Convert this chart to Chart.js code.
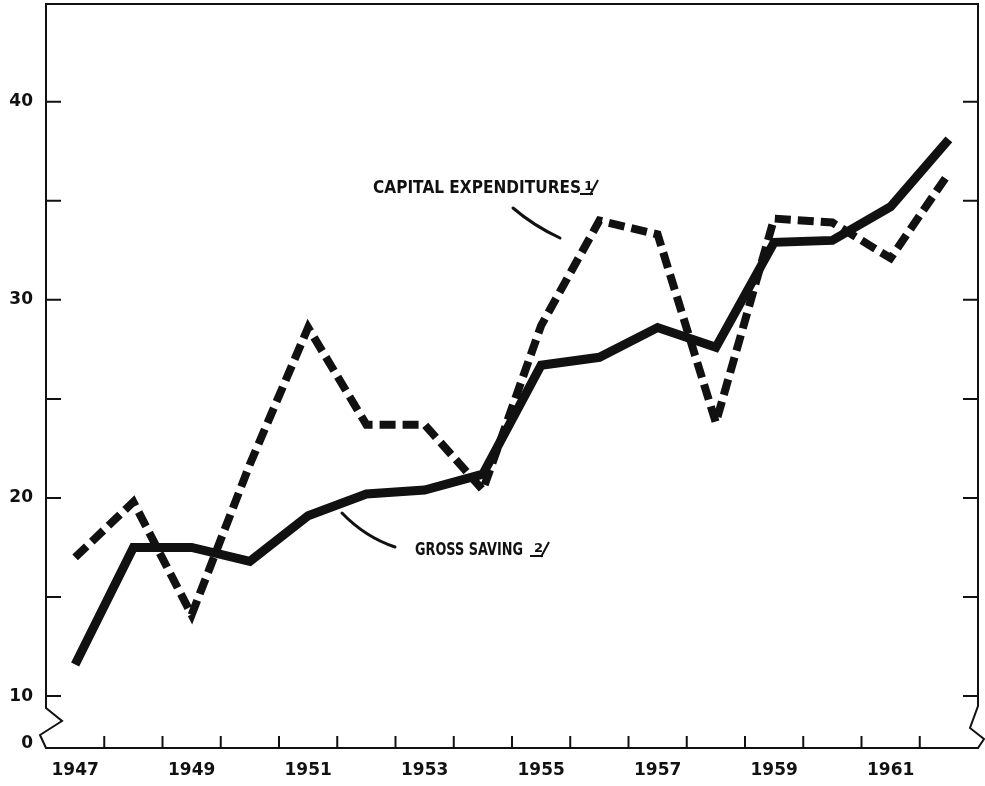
<!DOCTYPE html>
<html>
<head>
<meta charset="utf-8">
<script src="https://cdn.jsdelivr.net/npm/chart.js@4/dist/chart.umd.min.js"></script>
<style>
  html, body { margin: 0; padding: 0; background: #fff; }
  #wrap { width: 985px; height: 786px; position: relative; }
</style>
</head>
<body>
<div id="wrap"><canvas id="chart"></canvas></div>
<script>
// data
const years = ['1947', '1948', '1949', '1950', '1951', '1952', '1953', '1954',
               '1955', '1956', '1957', '1958', '1959', '1960', '1961', '1962'];
const grossSaving = [11.6, 17.5, 17.5, 16.8, 19.1, 20.2, 20.4, 21.2,
                     26.7, 27.1, 28.6, 27.6, 32.9, 33.0, 34.7, 38.1];
const capitalExpenditures = [17.0, 19.8, 14.1, 21.7, 28.6, 23.7, 23.7, 20.4,
                             28.7, 34.0, 33.3, 23.8, 34.1, 33.9, 32.1, 36.4];
const yTickMarks = [10, 15, 20, 25, 30, 35, 40];
const yTickLabels = [10, 20, 30, 40];
const zeroLabel = '0';

const Y_MIN = 7.38, Y_MAX = 44.93, ZERO_AT = 7.62;
const INK = '#111';
const FONT = "'DejaVu Sans', sans-serif";

const framePlugin = {
    id: 'frame',
    beforeDatasetsDraw(chart) {
        const { ctx, chartArea: a, scales } = chart;
        const x = scales.x, y = scales.y;
        ctx.save();
        ctx.strokeStyle = INK;
        ctx.lineWidth = 2;
        ctx.lineJoin = 'miter';

        // box with broken axes at the bottom of both sides
        ctx.beginPath();
        ctx.moveTo(a.left, a.bottom);
        ctx.lineTo(a.left - 6, a.bottom - 13);
        ctx.lineTo(a.left + 16, a.bottom - 27);
        ctx.lineTo(a.left, a.bottom - 40);
        ctx.lineTo(a.left, a.top);
        ctx.lineTo(a.right, a.top);
        ctx.lineTo(a.right, a.bottom - 42);
        ctx.lineTo(a.right - 8, a.bottom - 20);
        ctx.lineTo(a.right + 6, a.bottom - 9);
        ctx.lineTo(a.right, a.bottom);
        ctx.closePath();
        ctx.stroke();

        // inward ticks on both vertical sides
        yTickMarks.forEach(v => {
            const py = y.getPixelForValue(v);
            ctx.beginPath();
            ctx.moveTo(a.left, py); ctx.lineTo(a.left + 15, py);
            ctx.moveTo(a.right, py); ctx.lineTo(a.right - 15, py);
            ctx.stroke();
        });

        // ticks between years on the bottom axis
        for (let i = 0; i < years.length - 1; i++) {
            const px = (x.getPixelForValue(i) + x.getPixelForValue(i + 1)) / 2;
            ctx.beginPath();
            ctx.moveTo(px, a.bottom); ctx.lineTo(px, a.bottom - 12);
            ctx.stroke();
        }
        ctx.restore();
    },
    afterDraw(chart) {
        const ctx = chart.ctx;
        ctx.save();
        ctx.fillStyle = INK;
        ctx.strokeStyle = INK;
        ctx.textBaseline = 'alphabetic';
        ctx.font = 'bold 17px ' + FONT;
        ctx.fillText('CAPITAL EXPENDITURES', 373, 193, 208);
        ctx.fillText('GROSS SAVING', 415, 555, 108);

        // footnote marks
        ctx.font = 'bold 13px ' + FONT;
        ctx.fillText('1', 584, 190);
        ctx.fillText('2', 534, 552);
        ctx.lineWidth = 2;
        ctx.beginPath();
        ctx.moveTo(580, 194); ctx.lineTo(593, 194);
        ctx.moveTo(590, 195); ctx.lineTo(598, 180);
        ctx.moveTo(530, 556); ctx.lineTo(543, 556);
        ctx.moveTo(541, 557); ctx.lineTo(549, 542);
        ctx.stroke();

        // leader lines
        ctx.lineWidth = 3;
        ctx.lineCap = 'round';
        ctx.beginPath();
        ctx.moveTo(513, 208);
        ctx.quadraticCurveTo(534, 226, 560, 238);
        ctx.moveTo(342, 513);
        ctx.quadraticCurveTo(365, 537, 395, 547);
        ctx.stroke();
        ctx.restore();
    }
};

new Chart(document.getElementById('chart'), {
    type: 'line',
    data: {
        labels: years,
        datasets: [
            {
                label: 'Capital expenditures',
                data: capitalExpenditures,
                borderColor: INK,
                borderWidth: 8,
                borderDash: [16, 7],
                borderCapStyle: 'butt',
                borderJoinStyle: 'miter',
                pointRadius: 0,
                tension: 0
            },
            {
                label: 'Gross saving',
                data: grossSaving,
                borderColor: INK,
                borderWidth: 9,
                borderCapStyle: 'butt',
                borderJoinStyle: 'miter',
                pointRadius: 0,
                tension: 0
            }
        ]
    },
    options: {
        responsive: true,
        maintainAspectRatio: false,
        animation: false,
        layout: { padding: { top: 4, right: 7, left: 0, bottom: 0 } },
        plugins: {
            legend: { display: false },
            tooltip: { enabled: false }
        },
        scales: {
            x: {
                offset: true,
                grid: { display: false, drawTicks: false },
                border: { display: false },
                afterFit: s => { s.height = 38; s.paddingLeft = 0; s.paddingRight = 0; },
                ticks: {
                    color: INK,
                    font: { family: FONT, size: 17, weight: 'bold' },
                    padding: 12,
                    autoSkip: false,
                    maxRotation: 0,
                    callback: (val, i) => (i % 2 === 0 ? years[i] : '')
                }
            },
            y: {
                min: Y_MIN,
                max: Y_MAX,
                grid: { display: false, drawTicks: false },
                border: { display: false },
                afterFit: s => { s.width = 46; s.paddingTop = 0; s.paddingBottom = 0; },
                afterBuildTicks: s => {
                    s.ticks = [ZERO_AT, ...yTickMarks].map(v => ({ value: v }));
                },
                ticks: {
                    color: INK,
                    font: { family: FONT, size: 17, weight: 'bold' },
                    padding: 13,
                    callback: v => {
                        if (v === ZERO_AT) return zeroLabel;
                        return yTickLabels.includes(v) ? String(v) : '';
                    }
                }
            }
        }
    },
    plugins: [framePlugin]
});
</script>
</body>
</html>
